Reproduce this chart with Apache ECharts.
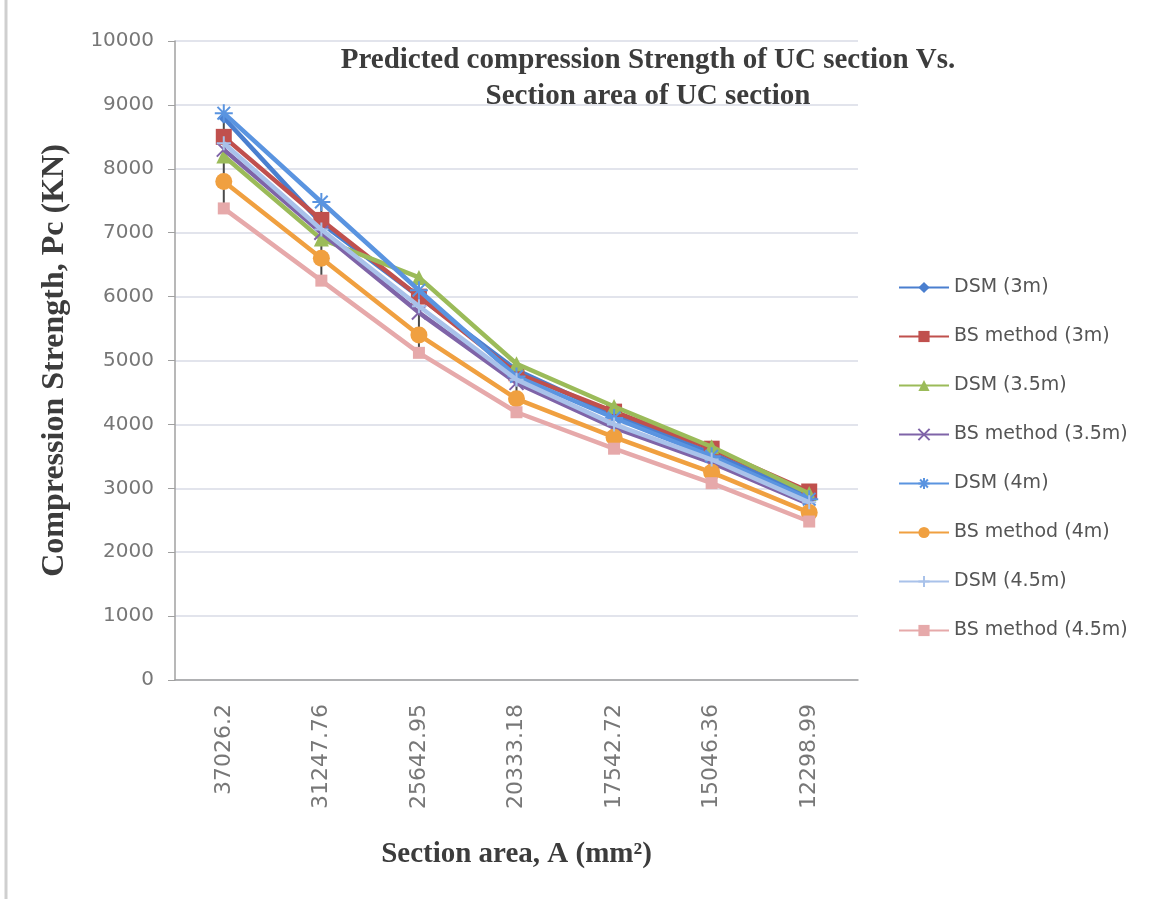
<!DOCTYPE html>
<html>
<head>
<meta charset="utf-8">
<script src="https://cdn.jsdelivr.net/npm/echarts@6/dist/echarts.min.js"></script>
<style>
html,body{margin:0;padding:0;background:#fff;}
#chart{width:1157px;height:899px;}
</style>
</head>
<body>
<div id="chart"></div>
<script>
const categories = ['37026.2','31247.76','25642.95','20333.18','17542.72','15046.36','12298.99'];
const yTicks = [0,1000,2000,3000,4000,5000,6000,7000,8000,9000,10000];
const seriesNames = ['DSM (3m)','BS method (3m)','DSM (3.5m)','BS method (3.5m)','DSM (4m)','BS method (4m)','DSM (4.5m)','BS method (4.5m)'];
const dsm3  = [8800, 7150, 6000, 4850, 4150, 3550, 2880];
const bs3   = [8500, 7200, 6000, 4800, 4200, 3620, 2950];
const dsm35 = [8200, 6900, 6300, 4950, 4280, 3650, 2920];
const bs35  = [8300, 7000, 5750, 4650, 3950, 3400, 2750];
const dsm4  = [8870, 7480, 6100, 4750, 4100, 3500, 2830];
const bs4   = [7800, 6600, 5400, 4400, 3800, 3250, 2620];
const dsm45 = [8400, 7050, 5850, 4700, 4000, 3450, 2780];
const bs45  = [7380, 6250, 5120, 4190, 3620, 3080, 2480];

const allSeries = [dsm3, bs3, dsm35, bs35, dsm4, bs4, dsm45, bs45];
const colors = ['#4a7fcf','#c0504d','#9bbb59','#7f64a8','#5a94e0','#f0a040','#a9c2ea','#e6a9aa'];
const symbols = [
  'diamond','rect','triangle',
  'path://M0,0 L10,10 M10,0 L0,10',
  'path://M5,0 L5,10 M0,5 L10,5 M1.5,1.5 L8.5,8.5 M8.5,1.5 L1.5,8.5',
  'circle',
  'path://M5,0 L5,10 M0,5 L10,5',
  'path://M0,4 L10,4 L10,6 L0,6 Z'
];
const symbolSizes = [12,16,15,14,18,17,14,12];
const strokeOnly = [false,false,false,true,true,false,true,false];

const hiLo = categories.map((c,i)=>{
  const vals = allSeries.map(s=>s[i]);
  return [i, Math.min(...vals), Math.max(...vals)];
});

const chart = echarts.init(document.getElementById('chart'));
const series = seriesNames.map((name,k)=>({
  name, type:'line', data: allSeries[k],
  symbol: symbols[k], symbolSize: symbolSizes[k], showSymbol:true,
  lineStyle:{color:colors[k], width:4.5},
  itemStyle: strokeOnly[k] ? {color:colors[k], borderColor:colors[k], borderWidth:2} : {color:colors[k]},
  z: 3 + k
}));
series.unshift({
  type:'custom', name:'hilo', z: 2,
  data: hiLo,
  renderItem: function(params, api){
    const top = api.coord([api.value(0), api.value(2)]);
    const bot = api.coord([api.value(0), api.value(1)]);
    return {type:'line', shape:{x1:top[0],y1:top[1],x2:bot[0],y2:bot[1]}, style:{stroke:'#4a4a4a', lineWidth:2}};
  },
  encode:{x:0, y:[1,2]}
});

chart.setOption({
  animation:false,
  backgroundColor:'#ffffff',
  graphic:[{type:'line', shape:{x1:6,y1:0,x2:6,y2:899}, style:{stroke:'#cfcfcf', lineWidth:3}, silent:true}],
  title:{
    text:'Predicted compression Strength of UC section Vs.\nSection area of UC section',
    left:643, top:38, textAlign:'center',
    textStyle:{fontFamily:'Liberation Serif', fontWeight:'bold', fontSize:29, color:'#3c3c3c', lineHeight:36, align:'center'}
  },
  legend:{
    orient:'vertical', left:893, top:273,
    data: seriesNames,
    itemWidth:50, itemHeight:14, itemGap:30,
    textStyle:{fontFamily:'DejaVu Sans', fontSize:19, color:'#555555'}
  },
  grid:{left:175, right:299, top:41, bottom:219},
  xAxis:{
    type:'category', data:categories, boundaryGap:true,
    name:'Section area, A (mm²)', nameLocation:'middle', nameGap:160,
    nameTextStyle:{fontFamily:'Liberation Serif', fontWeight:'bold', fontSize:29, color:'#3c3c3c'},
    axisLine:{lineStyle:{color:'#a0a0a0', width:1.5}},
    axisTick:{show:false},
    axisLabel:{rotate:90, margin:24, fontFamily:'DejaVu Sans', fontSize:22, color:'#777777'}
  },
  yAxis:{
    type:'value', min:0, max:10000, interval:1000,
    name:'Compression Strength, Pc (KN)', nameLocation:'middle', nameGap:104, nameRotate:90,
    nameTextStyle:{fontFamily:'Liberation Serif', fontWeight:'bold', fontSize:32, color:'#3c3c3c'},
    axisLine:{show:true, lineStyle:{color:'#a0a0a0', width:1.5}},
    axisTick:{show:true, length:7, lineStyle:{color:'#a0a0a0'}},
    splitLine:{lineStyle:{color:'#d9dbe6', width:1.5}},
    axisLabel:{margin:21, fontFamily:'DejaVu Sans', fontSize:20, color:'#777777',
      formatter: v => String(v)}
  },
  series
});
</script>
</body>
</html>
